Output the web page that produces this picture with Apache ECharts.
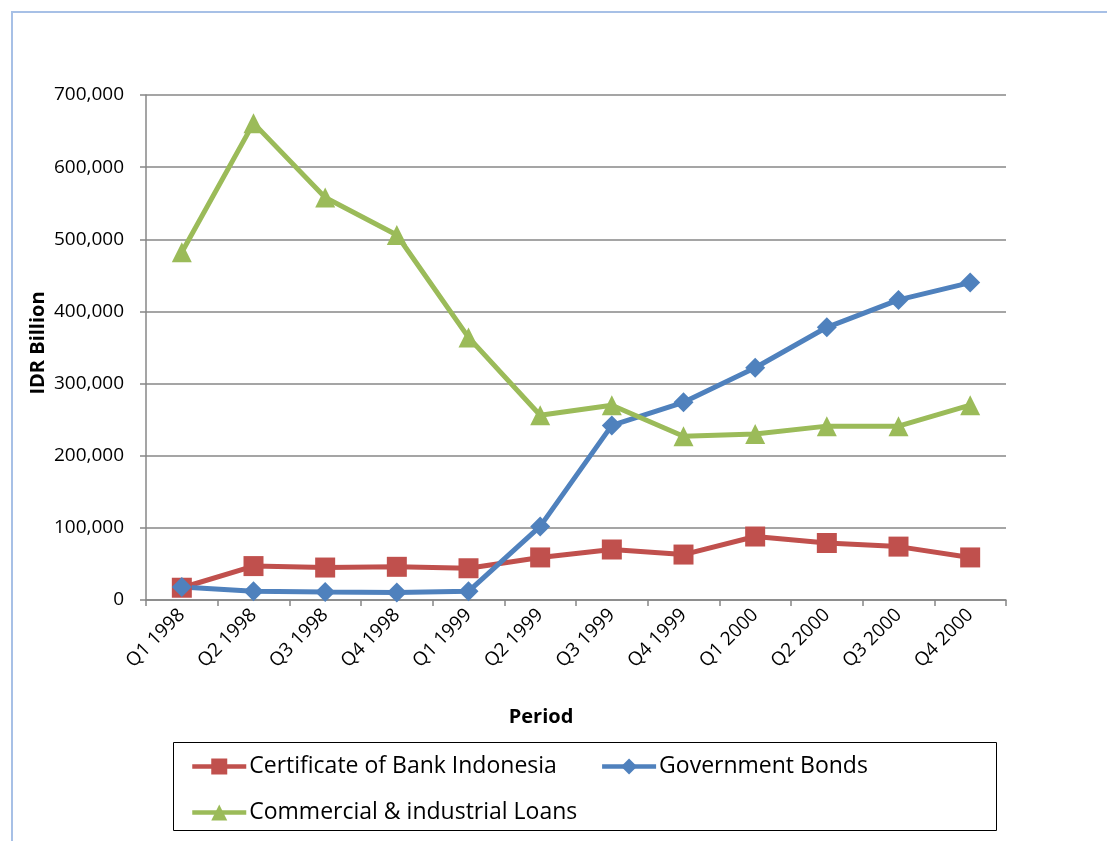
<!DOCTYPE html>
<html>
<head>
<meta charset="utf-8">
<title>Indonesian bank assets, 1998–2000</title>
<script src="https://cdn.jsdelivr.net/npm/echarts@6/dist/echarts.min.js"></script>
<style>
  html, body { margin: 0; padding: 0; background: #ffffff; }
  #chart { width: 1107px; height: 841px; }
</style>
</head>
<body>
<div id="chart"></div>
<script>
// Quarterly periods on the category axis
const periods = ['Q1 1998', 'Q2 1998', 'Q3 1998', 'Q4 1998', 'Q1 1999', 'Q2 1999',
                 'Q3 1999', 'Q4 1999', 'Q1 2000', 'Q2 2000', 'Q3 2000', 'Q4 2000'];

// IDR billion, per quarter
const certificateBI = [17000, 47000, 45000, 46000, 44000, 59000, 70000, 63000, 88000, 79000, 74000, 59000];
const governmentBonds = [18000, 12000, 11000, 10500, 12000, 102000, 242000, 274000, 322000, 378000, 416000, 440000];
const commercialLoans = [482000, 661000, 558000, 506000, 364000, 256000, 270000, 227000, 230000, 241000, 241000, 270000];

// Value axis ticks
const yTicks = [0, 100000, 200000, 300000, 400000, 500000, 600000, 700000];

const seriesNames = ['Certificate of Bank Indonesia', 'Government Bonds', 'Commercial & industrial Loans'];
const seriesColors = ['#C0504D', '#4F81BD', '#9BBB59'];

const font = '"Open Sans", "Noto Sans", sans-serif';
const gridColor = '#878787';

const chart = echarts.init(document.getElementById('chart'), null, { renderer: 'canvas' });

function lineSeries(name, data, color, symbol, size) {
  return {
    name: name,
    type: 'line',
    data: data,
    symbol: symbol,
    symbolSize: size,
    showAllSymbol: true,
    lineStyle: { color: color, width: 5 },
    itemStyle: { color: color },
    emphasis: { disabled: true },
    z: 3
  };
}

const legendCommon = {
  orient: 'horizontal',
  itemWidth: 54,
  itemHeight: 20,
  itemGap: 43,
  lineStyle: { width: 4.5 },
  textStyle: { fontFamily: font, fontSize: 23, color: '#000000', padding: [0, 0, 0, -2] },
  selectedMode: false
};

chart.setOption({
  backgroundColor: '#ffffff',
  animation: false,
  textStyle: { fontFamily: font },
  grid: { left: 146, right: 101, top: 95, bottom: 241, containLabel: false },
  xAxis: {
    type: 'category',
    data: periods,
    boundaryGap: true,
    axisLine: { lineStyle: { color: gridColor, width: 1.5 } },
    axisTick: { show: true, alignWithLabel: false, length: 6, lineStyle: { color: gridColor, width: 1.5 } },
    axisLabel: { rotate: 45, fontSize: 19, color: '#000000', fontFamily: font, margin: 12, interval: 0 },
    splitLine: { show: false }
  },
  yAxis: {
    type: 'value',
    min: yTicks[0],
    max: yTicks[yTicks.length - 1],
    interval: yTicks[1] - yTicks[0],
    axisLine: { show: true, lineStyle: { color: gridColor, width: 1.5 } },
    axisTick: { show: true, length: 6, lineStyle: { color: gridColor, width: 1.5 } },
    axisLabel: {
      fontSize: 19, color: '#000000', fontFamily: font, margin: 22,
      formatter: v => v.toLocaleString('en-US')
    },
    splitLine: { show: true, lineStyle: { color: gridColor, width: 1.5 } }
  },
  legend: [
    Object.assign({}, legendCommon, {
      data: [seriesNames[0], seriesNames[1]],
      left: 185, top: 750
    }),
    Object.assign({}, legendCommon, {
      data: [seriesNames[2]],
      left: 185, top: 796
    })
  ],
  graphic: [
    // outer chart frame
    { type: 'rect', shape: { x: 12, y: 12, width: 1200, height: 900 }, silent: true,
      style: { fill: null, stroke: '#A7C0E6', lineWidth: 2 } },
    // legend frame
    { type: 'rect', shape: { x: 173.5, y: 742.5, width: 823, height: 88 }, silent: true,
      style: { fill: null, stroke: '#000000', lineWidth: 1 } },
    // axis titles
    { type: 'text', x: 38, y: 343, rotation: Math.PI / 2, silent: true,
      style: { text: 'IDR Billion', fontFamily: font, fontWeight: 'bold', fontSize: 20,
               fill: '#000000', align: 'center', verticalAlign: 'middle' } },
    { type: 'text', x: 541, y: 717, silent: true,
      style: { text: 'Period', fontFamily: font, fontWeight: 'bold', fontSize: 20,
               fill: '#000000', align: 'center', verticalAlign: 'middle' } }
  ],
  series: [
    lineSeries(seriesNames[0], certificateBI, seriesColors[0], 'rect', 20),
    lineSeries(seriesNames[1], governmentBonds, seriesColors[1], 'diamond', 20),
    lineSeries(seriesNames[2], commercialLoans, seriesColors[2], 'triangle', 20)
  ]
});
</script>
</body>
</html>
